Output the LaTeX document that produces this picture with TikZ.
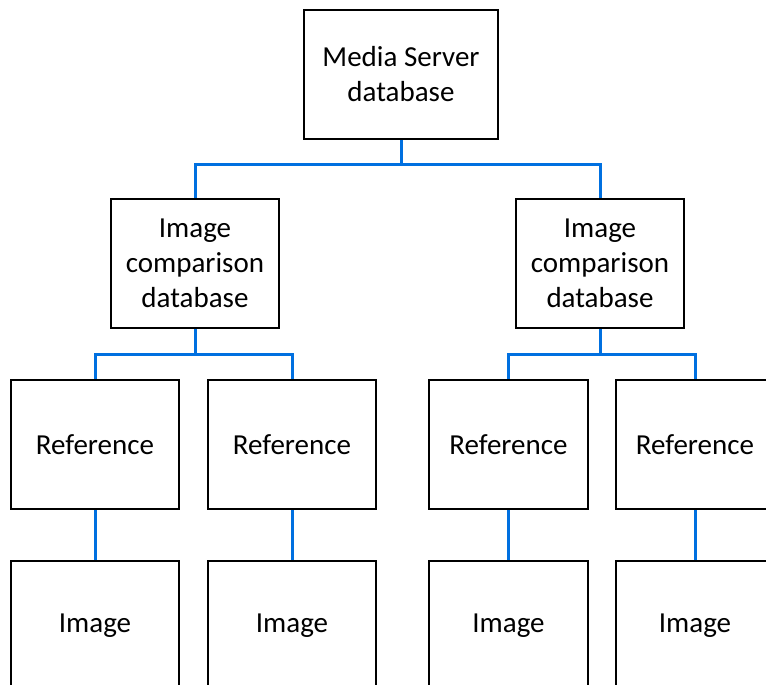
\documentclass[tikz,border=0pt]{standalone}
\usepackage{fontspec}
\setmainfont{Carlito}
\definecolor{linkblue}{RGB}{0,112,224}
\tikzset{
  box/.style={draw,line width=2pt,minimum width=168pt,minimum height=129pt,align=center,inner sep=0pt,font=\fontsize{29}{35}\selectfont},
  link/.style={linkblue,line width=3pt}
}
\begin{document}
\begin{tikzpicture}[x=1pt,y=-1pt]
                \useasboundingbox (0,0) rectangle (766,685);
                \clip (0,0) rectangle (766,685);
                % database levels
                \node[box,minimum width=194pt] (media) at (401,74.5) {Media Server\\database};
                \node[box] (cmpL) at (195,263.5) {Image\\comparison\\database};
                \node[box] (cmpR) at (600,263.5) {Image\\comparison\\database};
                % references
                \node[box] (refA) at (95,444.5) {Reference};
                \node[box] (refB) at (292,444.5) {Reference};
                \node[box,minimum width=159pt] (refC) at (508.5,444.5) {Reference};
                \node[box,minimum width=158pt] (refD) at (695,444.5) {Reference};
                % images
                \node[box] (imgA) at (95,625.5) {Image};
                \node[box] (imgB) at (292,625.5) {Image};
                \node[box,minimum width=159pt] (imgC) at (508.5,625.5) {Image};
                \node[box,minimum width=158pt] (imgD) at (695,625.5) {Image};
                % connectors
                \draw[link] (media.south) -- ++(0,24) coordinate (busTop);
                \draw[link] (cmpL.north) |- (busTop) -| (cmpR.north);
                \draw[link] (cmpL.south) -- ++(0,25) coordinate (busL);
                \draw[link] (refA.north) |- (busL) -| (refB.north);
                \draw[link] (cmpR.south) -- ++(0,25) coordinate (busR);
                \draw[link] (refC.north) |- (busR) -| (refD.north);
                \draw[link] (refA) -- (imgA);
                \draw[link] (refB) -- (imgB);
                \draw[link] (refC) -- (imgC);
                \draw[link] (refD) -- (imgD);
            \end{tikzpicture}
\end{document}
